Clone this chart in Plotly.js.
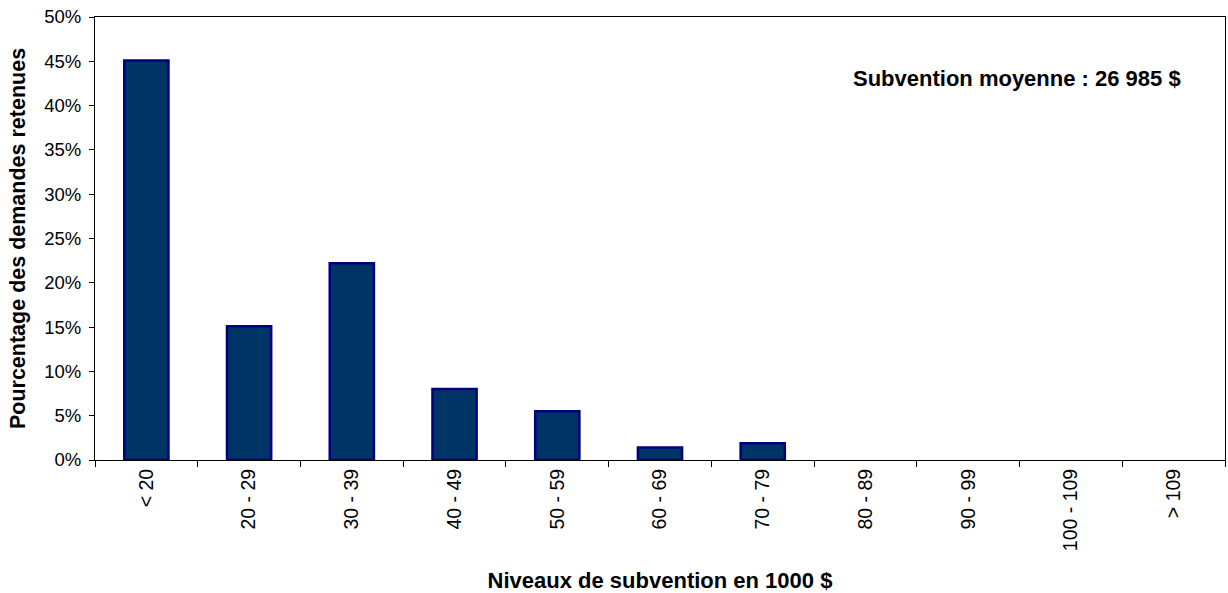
<!DOCTYPE html>
<html><head><meta charset="utf-8">
<script src="https://cdn.plot.ly/plotly-3.0.1.min.js"></script>
<style>html,body{margin:0;padding:0;background:#fff}#c{width:1228px;height:593px}</style>
</head><body><div id="c"></div>
<script>
const categories = ["< 20","20 - 29","30 - 39","40 - 49","50 - 59","60 - 69","70 - 79","80 - 89","90 - 99","100 - 109","> 109"];
const percentages = [45.1, 15.1, 22.2, 8.0, 5.5, 1.4, 1.9, 0, 0, 0, 0];
const yTickVals = [0,5,10,15,20,25,30,35,40,45,50];
const yTickText = yTickVals.map(v => v + "%");
const font = "Liberation Sans, Arial, sans-serif";

Plotly.newPlot("c", [{
  type: "bar",
  x: categories,
  y: percentages,
  marker: {color: "#003366", line: {color: "#000080", width: percentages.map(v => v > 0 ? 2.5 : 0)}},
  hoverinfo: "none"
}], {
  width: 1228, height: 593,
  margin: {l: 95, r: 3, t: 17, b: 133},
  paper_bgcolor: "#fff", plot_bgcolor: "#fff",
  bargap: 0.57,
  showlegend: false,
  font: {family: font, size: 18, color: "#000"},
  xaxis: {
    type: "category",
    tickangle: -90,
    tickson: "boundaries",
    ticks: "outside", ticklen: 6, tickcolor: "#000",
    showline: true, linecolor: "#000", linewidth: 1, mirror: true,
    showgrid: false,
    tickfont: {family: font, size: 19.5},
    title: {text: "<b>Niveaux de subvention en 1000 $</b>", font: {family: font, size: 22}, standoff: 22}
  },
  yaxis: {
    range: [0, 50],
    tickvals: yTickVals, ticktext: yTickText,
    ticks: "outside", ticklen: 5, tickcolor: "#000",
    ticklabelstandoff: 4,
    showline: true, linecolor: "#000", linewidth: 1, mirror: true,
    showgrid: false, zeroline: false,
    tickfont: {family: font, size: 18.5},
    title: {text: "<b>Pourcentage des demandes retenues</b>", font: {family: font, size: 21.5}, standoff: 12}
  },
  annotations: [{
    xref: "paper", yref: "paper", x: 0.963, y: 0.862,
    xanchor: "right", yanchor: "middle", showarrow: false,
    text: "<b>Subvention moyenne : 26 985 $</b>",
    font: {family: font, size: 22, color: "#000"}
  }]
}, {displayModeBar: false, staticPlot: true});
</script></body></html>
